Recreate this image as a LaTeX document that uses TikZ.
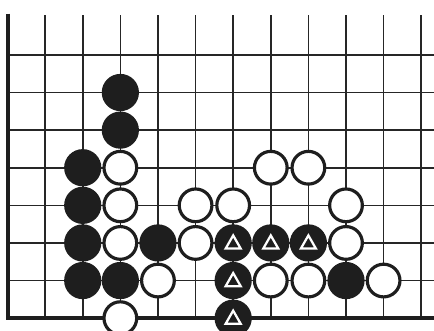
\documentclass[tikz,border=0pt]{standalone}
\begin{document}
\begin{tikzpicture}[x=1cm,y=1cm]
        \definecolor{gridline}{HTML}{262626}
        \definecolor{stoneblack}{HTML}{1E1E1E}
        \tikzset{
            bstone/.style={circle,fill=stoneblack,minimum size=0.99cm,inner sep=0pt},
            wstone/.style={circle,draw=stoneblack,fill=white,line width=2.4pt,minimum size=0.87cm,inner sep=0pt},
            tri/.style={draw=white,fill=stoneblack,line width=1.7pt,line join=miter}
        }
        \useasboundingbox (-0.2,-0.32) rectangle (11.34,8.46);
        \clip (-0.2,-0.32) rectangle (11.34,8.46);
        \foreach \x in {1,...,11} {
            \draw[gridline,line width=1.2pt] (\x,0)--(\x,8.07);
        }
        \foreach \y in {1,...,7} {
            \draw[gridline,line width=1.2pt] (0,\y)--(11.5,\y);
        }
        \draw[stoneblack,line width=3pt] (0,8.1)--(0,0)--(11.5,0);
        \foreach \x/\y in {3/6,3/5,2/4,2/3,2/2,2/1,3/1,4/2,6/2,7/2,8/2,6/1,6/0,9/1} {
            \node[bstone] (b\x\y) at (\x,\y) {};
        }
        \foreach \x/\y in {3/4,3/3,3/2,3/0,4/1,5/3,6/3,5/2,7/4,8/4,9/3,9/2,7/1,8/1,10/1} {
            \node[wstone] (w\x\y) at (\x,\y) {};
        }
        \foreach \n in {b62,b72,b82,b61,b60} {
            \draw[tri] (\n.center) ++(0,0.2) -- ++(-0.2,-0.35) -- ++(0.4,0) -- cycle;
        }
    \end{tikzpicture}
\end{document}
